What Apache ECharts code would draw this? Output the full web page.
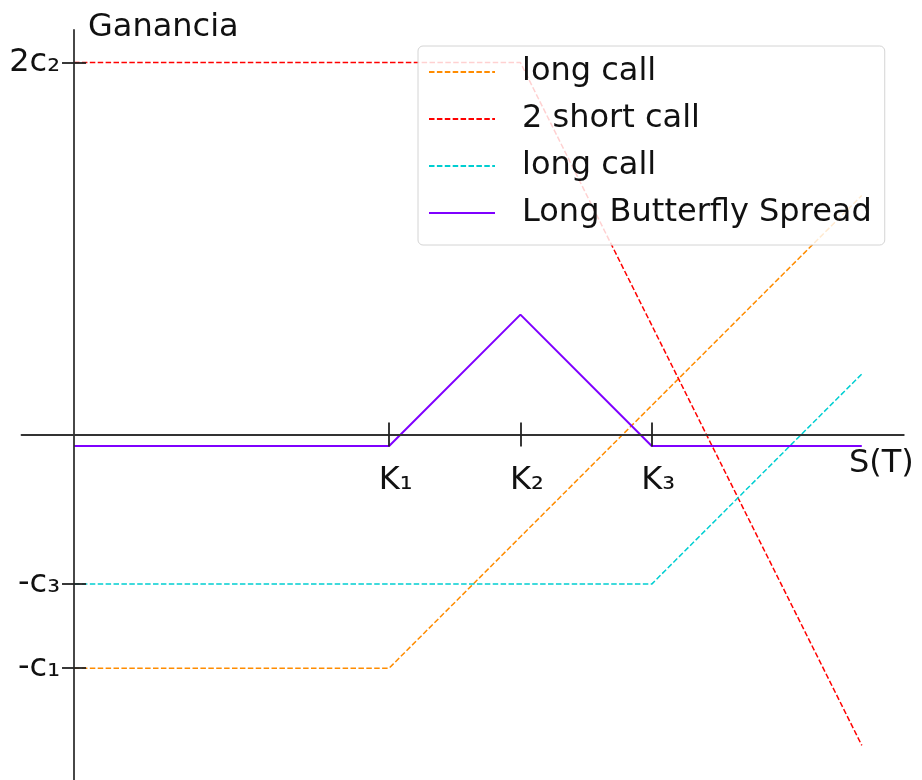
<!DOCTYPE html>
<html>
<head>
<meta charset="utf-8">
<script src="https://cdn.jsdelivr.net/npm/echarts@6/dist/echarts.min.js"></script>
<style>
  html, body { margin: 0; padding: 0; background: #fff; }
  #chart { width: 922px; height: 780px; }
</style>
</head>
<body>
<div id="chart"></div>
<script>
// Payoff at expiry of a long butterfly spread built from calls
const spot = [0, 60, 85, 110, 150];
const longCallK1 = [-44.5, -44.5, -19.5, 5.5, 45.5];
const shortCallsK2 = [70.8, 70.8, 70.8, 20.8, -59.2];
const longCallK3 = [-28.5, -28.5, -28.5, -28.5, 11.5];
const butterfly = [-2.2, -2.2, 22.8, -2.2, -2.2];

// Axis ticks: strikes on S(T), premiums on the profit axis
const strikeValues = [60, 85, 110];
const strikeLabels = ['K\u2081', 'K\u2082', 'K\u2083'];
const premiumValues = [70.8, -28.5, -44.5];
const premiumLabels = ['2c\u2082', '-c\u2083', '-c\u2081'];

const seriesNames = ['long call K1', '2 short call', 'long call K3', 'Long Butterfly Spread'];
const legendLabels = ['long call', '2 short call', 'long call', 'Long Butterfly Spread'];

const FONT = 'DejaVu Sans';
const AXIS_COLOR = '#333';
const W = 922, H = 780;

// Plot area and value ranges
const X_MIN = -10, X_MAX = 158, Y_MIN = -65.8, Y_MAX = 77;
const G_LEFT = 21.5, G_RIGHT = 18.2, G_TOP = 30, G_BOTTOM = 0;
const gridW = W - G_LEFT - G_RIGHT, gridH = H - G_TOP - G_BOTTOM;

// Pixel position of the origin, so both axes can cross there
const zeroX = G_LEFT + (0 - X_MIN) / (X_MAX - X_MIN) * gridW;
const zeroY = G_TOP + (Y_MAX - 0) / (Y_MAX - Y_MIN) * gridH;

function pairs(ys) {
  return spot.map((x, i) => [x, ys[i]]);
}
function lookup(values, labels) {
  return v => {
    const i = values.findIndex(t => Math.abs(t - v) < 1e-6);
    return i >= 0 ? labels[i] : '';
  };
}

const chart = echarts.init(document.getElementById('chart'), null, { renderer: 'canvas' });

const tickStyle = { color: '#222', width: 1.8 };
const textBase = { fontFamily: FONT, fontSize: 32, color: '#111' };

chart.setOption({
  animation: false,
  backgroundColor: '#fff',
  grid: { left: G_LEFT, right: G_RIGHT, top: G_TOP, bottom: G_BOTTOM, containLabel: false, outerBoundsMode: 'none' },
  xAxis: [
    {
      type: 'value', min: X_MIN, max: X_MAX, position: 'bottom', z: 5,
      offset: -(G_TOP + gridH - zeroY),
      axisLine: { onZero: false, lineStyle: { color: AXIS_COLOR, width: 1.8 } },
      axisTick: { show: true, customValues: strikeValues, length: 12, lineStyle: tickStyle },
      axisLabel: Object.assign({
        customValues: strikeValues, formatter: lookup(strikeValues, strikeLabels),
        margin: 30, padding: [0, 0, 0, 13]
      }, textBase),
      splitLine: { show: false },
      name: 'S(T)', nameLocation: 'end', nameGap: 10,
      nameTextStyle: Object.assign({ align: 'right', verticalAlign: 'top', padding: [13, 0, 0, 0] }, textBase)
    },
    {
      type: 'value', min: X_MIN, max: X_MAX, position: 'top', z: 5,
      offset: -(zeroY - G_TOP),
      axisLine: { show: false, onZero: false },
      axisTick: { show: true, customValues: strikeValues, length: 12, lineStyle: tickStyle },
      axisLabel: { show: false },
      splitLine: { show: false }
    }
  ],
  yAxis: [
    {
      type: 'value', min: Y_MIN, max: Y_MAX, position: 'left', z: 5,
      offset: -(zeroX - G_LEFT),
      axisLine: { onZero: false, lineStyle: { color: AXIS_COLOR, width: 1.8 } },
      axisTick: { show: true, customValues: premiumValues, length: 12, lineStyle: tickStyle },
      axisLabel: Object.assign({
        customValues: premiumValues, formatter: lookup(premiumValues, premiumLabels),
        margin: 14
      }, textBase),
      splitLine: { show: false },
      name: 'Ganancia', nameLocation: 'end', nameGap: 2,
      nameTextStyle: Object.assign({ align: 'left', verticalAlign: 'middle', padding: [0, 0, 0, 14] }, textBase)
    },
    {
      type: 'value', min: Y_MIN, max: Y_MAX, position: 'right', z: 5,
      offset: -(G_LEFT + gridW - zeroX),
      axisLine: { show: false, onZero: false },
      axisTick: { show: true, customValues: premiumValues, length: 12, lineStyle: tickStyle },
      axisLabel: { show: false },
      splitLine: { show: false }
    }
  ],
  legend: {
    orient: 'vertical', left: 418, top: 46, z: 10,
    data: seriesNames,
    formatter: name => legendLabels[seriesNames.indexOf(name)],
    itemWidth: 66, itemHeight: 4, itemGap: 11,
    itemStyle: { opacity: 0 },
    padding: [8, 13, 14, 10],
    backgroundColor: 'rgba(255,255,255,0.82)',
    borderColor: '#d4d4d4', borderWidth: 1, borderRadius: 5,
    selectedMode: false,
    textStyle: Object.assign({ lineHeight: 36, padding: [0, 0, 0, 22] }, textBase)
  },
  series: [
    { name: seriesNames[0], type: 'line', data: pairs(longCallK1), symbol: 'none',
      lineStyle: { color: '#ff8c00', width: 1.5, type: [5.5, 2.4] }, itemStyle: { color: '#ff8c00' } },
    { name: seriesNames[1], type: 'line', data: pairs(shortCallsK2), symbol: 'none',
      lineStyle: { color: '#ff0000', width: 1.5, type: [5.5, 2.4] }, itemStyle: { color: '#ff0000' } },
    { name: seriesNames[2], type: 'line', data: pairs(longCallK3), symbol: 'none',
      lineStyle: { color: '#00ced1', width: 1.5, type: [5.5, 2.4] }, itemStyle: { color: '#00ced1' } },
    { name: seriesNames[3], type: 'line', data: pairs(butterfly), symbol: 'none',
      lineStyle: { color: '#7f00ff', width: 2 }, itemStyle: { color: '#7f00ff' } }
  ]
});
</script>
</body>
</html>
